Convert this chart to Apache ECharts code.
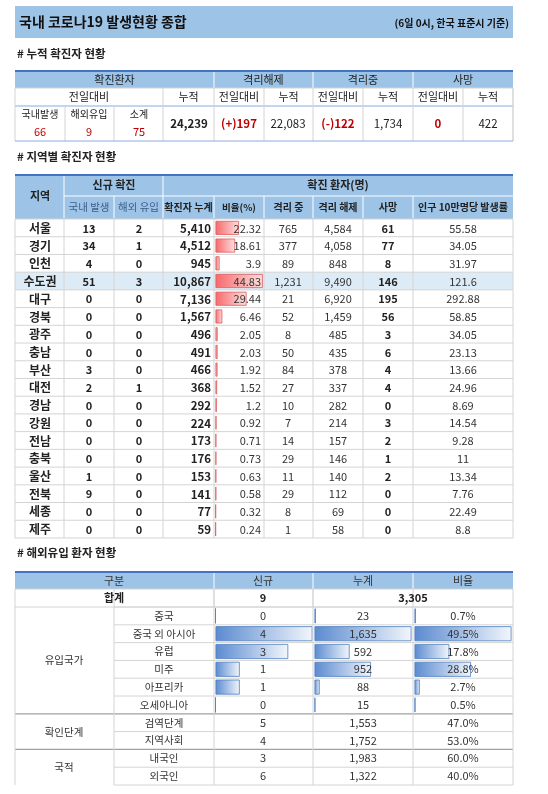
<!DOCTYPE html>
<html><head><meta charset="utf-8">
<script src="https://cdn.jsdelivr.net/npm/echarts@6/dist/echarts.min.js"></script>
<style>html,body{margin:0;padding:0;background:#fff}#c{width:548px;height:794px}</style>
</head><body><div id="c"></div>
<script>
// ---- data ----
var titleText = '국내 코로나19 발생현황 종합';
var titleNote = '(6일 0시, 한국 표준시 기준)';
var sumDomestic = 66, sumImported = 9, sumSubtotal = 75;
var sumTotal = '24,239', sumReleasedDiff = '(+)197', sumReleased = '22,083';
var sumIsolDiff = '(-)122', sumIsol = '1,734', sumDeathDiff = '0', sumDeath = '422';

var regions = ['서울','경기','인천','수도권','대구','경북','광주','충남','부산','대전','경남','강원','전남','충북','울산','전북','세종','제주'];
var newDomestic = [13,34,4,51,0,0,0,0,3,2,0,0,0,0,1,9,0,0];
var newImported = [2,1,0,3,0,0,0,0,0,1,0,0,0,0,0,0,0,0];
var cumCases = ['5,410','4,512','945','10,867','7,136','1,567','496','491','466','368','292','224','173','176','153','141','77','59'];
var ratioPct = [22.32,18.61,3.9,44.83,29.44,6.46,2.05,2.03,1.92,1.52,1.2,0.92,0.71,0.73,0.63,0.58,0.32,0.24];
var isolating = ['765','377','89','1,231','21','52','8','50','84','27','10','7','14','29','11','29','8','1'];
var released = ['4,584','4,058','848','9,490','6,920','1,459','485','435','378','337','282','214','157','146','140','112','69','58'];
var deaths = [61,77,8,146,195,56,3,6,4,4,0,3,2,1,2,0,0,0];
var per100k = ['55.58','34.05','31.97','121.6','292.88','58.85','34.05','23.13','13.66','24.96','8.69','14.54','9.28','11','13.34','7.76','22.49','8.8'];

var impGroups = ['유입국가','확인단계','국적'];
var impCats = ['중국','중국 외 아시아','유럽','미주','아프리카','오세아니아','검역단계','지역사회','내국인','외국인'];
var impNew = [0,4,3,1,1,0,5,4,3,6];
var impCum = [23,1635,592,952,88,15,1553,1752,1983,1322];
var impRatio = [0.7,49.5,17.8,28.8,2.7,0.5,47.0,53.0,60.0,40.0];
var impTotalNew = 9, impTotalCum = '3,305';

// ---- drawing helpers ----
var F = '"Noto Sans CJK KR","Noto Sans",sans-serif';
var G = [];
function T(s, x, y, o) { o = o || {};
  G.push({type:'text', z:10, style:{text:String(s), x:x, y:y, fill:o.c||'#222', textAlign:o.a||'center', textVerticalAlign:'middle',
    font:(o.b?'bold ':'')+(o.s||11)+'px '+F}}); }
function R(x, y, w, h, fill) { G.push({type:'rect', z:1, shape:{x:x,y:y,width:w,height:h}, style:{fill:fill}}); }
function L(x1, y1, x2, y2, c, w) { G.push({type:'line', z:5, shape:{x1:x1,y1:y1,x2:x2,y2:y2}, style:{stroke:c||'#d9d9d9', lineWidth:w||1}}); }
function fmt(n){ return n.toLocaleString('en-US'); }
var HB = '#9dc3e6', RED = '#c00000', GL = '#d4d4d4';

// title
R(15, 6, 498, 32, HB);
T(titleText, 19, 22, {a:'left', s:14, b:true, c:'#111'});
T(titleNote, 509, 23, {a:'right', s:10, b:true, c:'#111'});

// ---- section 1 ----
T('# 누적 확진자 현황', 17, 54, {a:'left', s:11.5, b:true});
var X1 = [15,65,114,163,214,264,313,363,413,463,513];
R(15, 71, 498, 17, HB);
L(15, 71, 513, 71, '#4472c4', 2);
[['확진환자',15,214],['격리해제',214,313],['격리중',313,413],['사망',413,513]].forEach(function(h){ T(h[0], (h[1]+h[2])/2, 80); });
[214,313,413].forEach(function(x){ L(x,72,x,88,'#fff'); });
T('전일대비', 89, 97);
['누적','전일대비','누적','전일대비','누적','전일대비','누적'].forEach(function(t,i){ T(t, (X1[i+3]+X1[i+4])/2, 97); });
L(15,88,513,88,GL); L(15,106,513,106,'#8ea9db');
for (var i=3;i<=10;i++) L(X1[i],88,X1[i],141,GL);
L(65,106,65,141,GL); L(114,106,114,141,GL); L(15,88,15,141,GL); L(513,88,513,141,GL);
T('국내발생', 40, 114, {s:10}); T('해외유입', 89, 114, {s:10}); T('소계', 139, 114, {s:10});
T(sumDomestic, 40, 132, {c:RED}); T(sumImported, 89, 132, {c:RED}); T(sumSubtotal, 139, 132, {c:RED});
T(sumTotal, 189, 124, {b:true, s:11.5});
T(sumReleasedDiff, 239, 124, {b:true, c:RED, s:11.5}); T(sumReleased, 288, 124, {s:11.5});
T(sumIsolDiff, 338, 124, {b:true, c:RED, s:11.5}); T(sumIsol, 388, 124, {s:11.5});
T(sumDeathDiff, 438, 124, {b:true, c:RED, s:11.5}); T(sumDeath, 488, 124, {s:11.5});
L(15,141,513,141,'#8ea9db');

// ---- section 2 ----
T('# 지역별 확진자 현황', 17, 157, {a:'left', s:11.5, b:true});
var X2 = [15,64,114,163,214,264,313,363,413,513];
var top2 = 219, rh = 17.72;
R(15, 175, 498, 44, HB);
L(15, 175, 513, 175, '#4472c4', 2);
T('지역', 40, 196, {b:true});
T('신규 확진', 114, 185, {b:true});
T('확진 환자(명)', 338, 185, {b:true});
L(64,196,513,196,'#fff'); [64,163].forEach(function(x){L(x,176,x,218,'#fff');});
[114,214,264,313,363,413].forEach(function(x){L(x,196,x,218,'#fff');});
['국내 발생','해외 유입'].forEach(function(t,i){ T(t,(X2[i+1]+X2[i+2])/2,207,{c:'#3b5f8a', s:10.5}); });
['확진자 누계','비율(%)','격리 중','격리 해제','사망','인구 10만명당 발생률'].forEach(function(t,i){ T(t,(X2[i+3]+X2[i+4])/2,207,{b:true, s:i==1?9.5:10, c:'#222'}); });
R(15, top2+3*rh, 498, rh, '#ddebf7');
for (var r=0;r<=regions.length;r++) L(15, top2+r*rh, 513, top2+r*rh, GL);
X2.forEach(function(x){ L(x, top2, x, top2+regions.length*rh, GL); });
regions.forEach(function(nm, r){
  var y = top2 + r*rh + rh/2 + 0.5;
  T(nm, 40, y, {b:true, s:12});
  T(newDomestic[r], 89, y, {b:true});
  T(newImported[r], 139, y, {b:true});
  T(cumCases[r], 211, y, {b:true, a:'right', s:11.5});
  T(ratioPct[r], 261, y, {a:'right', c:'#333'});
  T(isolating[r], 288, y, {c:'#333'});
  T(released[r], 338, y, {c:'#333'});
  T(deaths[r], 388, y, {b:true});
  T(per100k[r], 463, y, {c:'#333'});
});

// ---- section 3 ----
T('# 해외유입 환자 현황', 17, 553, {a:'left', s:11.5, b:true});
var X3 = [15,114,214,313,413,513], top3 = 607, rh3 = 17.8;
R(15, 572, 498, 17, HB);
L(15, 572, 513, 572, '#4472c4', 2);
T('구분', 114, 581, {c:'#333'}); T('신규', 263, 581, {c:'#333'}); T('누계', 363, 581, {c:'#333'}); T('비율', 463, 581, {c:'#333'});
[214,313,413].forEach(function(x){L(x,573,x,589,'#fff');});
L(15,589,513,589,GL); L(15,607,513,607,GL);
L(214,589,214,607,GL); L(313,589,313,607,GL);
T('합계', 114, 598, {b:true}); T(impTotalNew, 263, 598, {b:true}); T(impTotalCum, 413, 598, {b:true});
for (var k=0;k<=impCats.length;k++) {
  var yy = top3 + k*rh3;
  var sep = (k==6||k==8);
  L(sep?15:114, yy, 513, yy, sep?'#a0a0a0':GL, sep?1.2:1);
}
X3.forEach(function(x){ L(x, 589, x, top3+impCats.length*rh3, GL); });
var grpRows = [[0,6],[6,8],[8,10]];
impGroups.forEach(function(g,i){ T(g, 64, top3 + (grpRows[i][0]+grpRows[i][1])/2*rh3, {s:10.5, c:'#333'}); });
impCats.forEach(function(c,k){
  var y = top3 + k*rh3 + rh3/2;
  T(c, 164, y, {s:10.5, c:'#333'});
  T(impNew[k], 263, y, {c:'#333'});
  T(fmt(impCum[k]), 363, y, {c:'#333'});
  T(impRatio[k].toFixed(1)+'%', 463, y, {c:'#333'});
});

// ---- data bars via series ----
var redGrad = new echarts.graphic.LinearGradient(0,0,1,0,[{offset:0,color:'#f8696b'},{offset:1,color:'#fde0e0'}]);
var blueGrad = new echarts.graphic.LinearGradient(0,0,1,0,[{offset:0,color:'#5b8bd0'},{offset:1,color:'#f2f6fb'}]);
var impBarCats = impCats.slice(0,6);
function gridAx(left, top, width, height, cats, max) {
  return {grid:{left:left, top:top, width:width, height:height},
    x:{type:'value', min:0, max:max, show:false},
    y:{type:'category', data:cats, inverse:true, show:false}};
}
var defs = [
  gridAx(215.5, top2, 48, rh*regions.length, regions, 45.5),
  gridAx(215.5, top3, 97, rh3*6, impBarCats, 4),
  gridAx(314.5, top3, 97, rh3*6, impBarCats, 1635),
  gridAx(414.5, top3, 97, rh3*6, impBarCats, 49.5)
];
var vals = [ratioPct, impNew.slice(0,6), impCum.slice(0,6), impRatio.slice(0,6)];
var series = vals.map(function(v,i){
  return {type:'bar', xAxisIndex:i, yAxisIndex:i, data:v, barWidth:i==0?14:15, silent:true, animation:false,
    itemStyle:{color:i==0?redGrad:blueGrad, borderColor:i==0?'#e05a5c':'#4f7fc0', borderWidth:0.8}, z:2};
});

var chart = echarts.init(document.getElementById('c'));
chart.setOption({
  animation:false,
  grid: defs.map(function(d){return d.grid;}),
  xAxis: defs.map(function(d,i){return Object.assign({gridIndex:i}, d.x);}),
  yAxis: defs.map(function(d,i){return Object.assign({gridIndex:i}, d.y);}),
  series: series,
  graphic: G
});
</script></body></html>
